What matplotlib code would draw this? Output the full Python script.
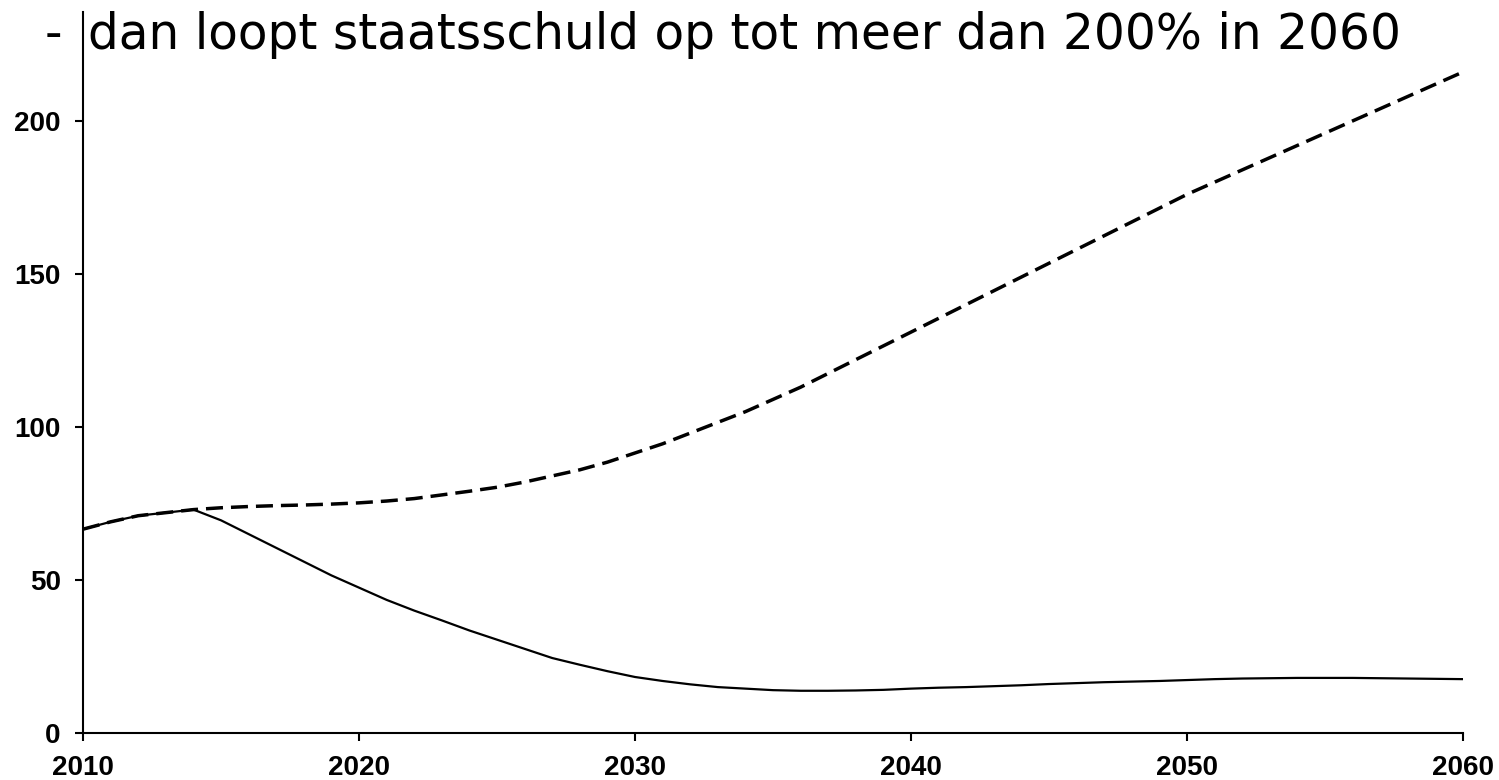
import numpy as np
import matplotlib.pyplot as plt

years = np.arange(2010, 2061)

# met maatregelen (doorgetrokken lijn)
debt_policy = [66.6, 69.0, 71.0, 72.0, 73.0, 69.5, 65.0, 60.5, 56.0, 51.5,
               47.5, 43.5, 40.0, 36.8, 33.5, 30.5, 27.5, 24.5, 22.3, 20.2,
               18.3, 17.0, 15.9, 15.0, 14.5, 14.0, 13.8, 13.8, 13.9, 14.1,
               14.5, 14.8, 15.0, 15.3, 15.6, 16.0, 16.3, 16.6, 16.8, 17.0,
               17.3, 17.6, 17.8, 17.9, 18.0, 18.0, 18.0, 17.9, 17.8, 17.7,
               17.6]

# zonder maatregelen (stippellijn)
debt_base = [66.6, 69.0, 71.0, 72.0, 73.0, 73.6, 74.0, 74.3, 74.5, 74.8,
             75.2, 75.8, 76.6, 77.8, 79.0, 80.3, 82.0, 84.0, 86.0, 88.5,
             91.5, 94.5, 98.0, 101.5, 105.0, 109.0, 113.0, 117.5, 122.0, 126.5,
             131.0, 135.5, 140.0, 144.5, 149.0, 153.5, 158.0, 162.5, 167.0, 171.5,
             176.0, 180.0, 184.0, 188.0, 192.0, 196.0, 200.0, 204.0, 208.0, 212.0,
             216.0]

title_dash = "-"
title = "dan loopt staatsschuld op tot meer dan 200% in 2060"

fig = plt.figure(figsize=(14.99, 7.8), dpi=100)
ax = fig.add_axes([83 / 1499, 47 / 780, 1380 / 1499, 721 / 780])

ax.plot(years, debt_policy, color='black', lw=1.6, solid_joinstyle='round')
ax.plot(years, debt_base, color='black', lw=2.5, linestyle=(0, (4.9, 2.3)))

ax.set_xlim(2010, 2060)
ax.set_ylim(0, 235.6)
ax.set_xticks(np.arange(2010, 2061, 10))
ax.set_yticks(np.arange(0, 201, 50))

for s in ['top', 'right']:
    ax.spines[s].set_visible(False)
for s in ['left', 'bottom']:
    ax.spines[s].set_linewidth(1.5)

ax.tick_params(axis='both', direction='out', length=6, width=1.5,
               labelsize=20)
ax.tick_params(axis='y', pad=10)
ax.tick_params(axis='x', pad=10)
for lab in ax.get_xticklabels() + ax.get_yticklabels():
    lab.set_fontfamily('Liberation Sans')
    lab.set_fontweight('bold')

# titel: streepje links van de as, tekst rechts ervan
fig.text(45 / 1499, 1 - 49 / 780, title_dash, fontsize=35,
         family='DejaVu Sans', va='baseline', ha='left')
fig.text(88 / 1499, 1 - 49 / 780, title, fontsize=35,
         family='DejaVu Sans', va='baseline', ha='left')

fig.savefig('out.png', dpi=100, facecolor='white')
